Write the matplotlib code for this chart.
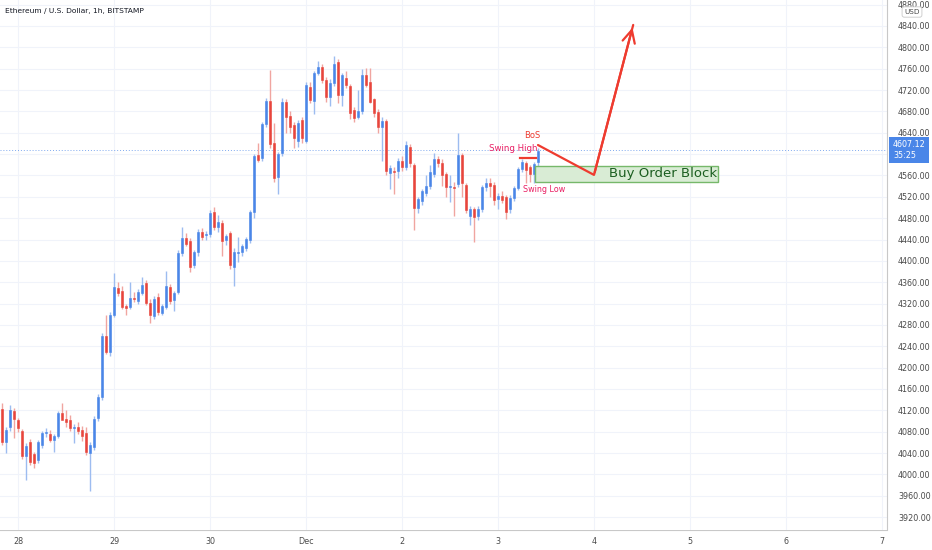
import numpy as np
import matplotlib
matplotlib.use("Agg")
import matplotlib.pyplot as plt
from matplotlib.patches import Rectangle

# ETH/USD 1h candles, first candle at 20:00 on Nov 27 (hour -4 from Nov 28 00:00)
opens = [4122, 4061, 4089, 4119, 4102, 4081, 4034, 4061, 4038, 4027, 4055, 4077, 4076, 4064, 4072,
         4115, 4104, 4102, 4087, 4089, 4083, 4078, 4040, 4051, 4106, 4145, 4259, 4229, 4299, 4349,
         4344, 4315, 4314, 4331, 4325, 4340, 4359, 4321, 4297, 4332, 4302, 4314, 4351, 4327, 4342,
         4415, 4443, 4437, 4392, 4416, 4454, 4448, 4450, 4492, 4463, 4471, 4439, 4452, 4388, 4415,
         4417, 4424, 4439, 4492, 4598, 4593, 4656, 4700, 4621, 4557, 4602, 4698, 4672, 4654, 4625,
         4664, 4624, 4726, 4700, 4752, 4763, 4739, 4707, 4733, 4773, 4711, 4743, 4728, 4683, 4670,
         4681, 4748, 4735, 4703, 4679, 4651, 4662, 4564, 4568, 4568, 4587, 4576, 4613, 4579, 4499,
         4512, 4527, 4540, 4563, 4591, 4583, 4563, 4538, 4539, 4544, 4598, 4542, 4484, 4497, 4484,
         4497, 4538, 4546, 4542, 4516, 4521, 4520, 4497, 4518, 4537, 4572, 4583, 4575, 4563, 4585]
highs = [4134, 4088, 4130, 4124, 4106, 4085, 4058, 4066, 4042, 4064, 4082, 4086, 4084, 4076, 4119,
         4134, 4120, 4112, 4094, 4098, 4090, 4088, 4060, 4110, 4150, 4265, 4298, 4305, 4377, 4360,
         4352, 4320, 4360, 4342, 4348, 4370, 4364, 4328, 4334, 4340, 4320, 4381, 4356, 4344, 4420,
         4464, 4452, 4442, 4420, 4460, 4462, 4456, 4495, 4500, 4485, 4476, 4450, 4456, 4425, 4445,
         4432, 4445, 4496, 4600, 4620, 4660, 4706, 4758, 4658, 4604, 4706, 4703, 4680, 4660, 4664,
         4670, 4735, 4735, 4756, 4774, 4768, 4744, 4740, 4784, 4778, 4752, 4756, 4732, 4688, 4720,
         4760, 4762, 4762, 4706, 4684, 4670, 4666, 4580, 4575, 4592, 4596, 4625, 4618, 4584, 4520,
         4535, 4560, 4580, 4603, 4596, 4590, 4567, 4560, 4548, 4640, 4602, 4546, 4502, 4500, 4502,
         4542, 4556, 4556, 4548, 4528, 4530, 4524, 4524, 4540, 4576, 4590, 4588, 4580, 4586, 4612]
lows = [4055, 4040, 4082, 4068, 4080, 4028, 3989, 4018, 4012, 4022, 4050, 4070, 4060, 4042, 4068,
        4108, 4088, 4082, 4058, 4075, 4062, 4036, 3968, 4046, 4100, 4140, 4225, 4222, 4294, 4335,
        4310, 4299, 4310, 4322, 4320, 4336, 4318, 4283, 4292, 4298, 4298, 4310, 4320, 4307, 4338,
        4410, 4428, 4380, 4386, 4410, 4440, 4440, 4445, 4458, 4455, 4410, 4430, 4385, 4352, 4398,
        4410, 4418, 4434, 4480, 4585, 4588, 4650, 4612, 4548, 4525, 4596, 4640, 4640, 4612, 4614,
        4620, 4620, 4696, 4676, 4748, 4734, 4698, 4690, 4728, 4696, 4690, 4724, 4665, 4660, 4665,
        4676, 4725, 4695, 4670, 4640, 4588, 4560, 4535, 4525, 4556, 4568, 4570, 4575, 4458, 4490,
        4505, 4522, 4535, 4558, 4575, 4540, 4520, 4510, 4484, 4538, 4520, 4490, 4468, 4436, 4476,
        4492, 4530, 4520, 4505, 4498, 4508, 4478, 4490, 4512, 4532, 4566, 4545, 4548, 4545, 4575]
closes = [4061, 4083, 4121, 4104, 4087, 4034, 4053, 4023, 4021, 4061, 4078, 4079, 4064, 4072, 4115,
          4102, 4098, 4087, 4088, 4081, 4072, 4042, 4055, 4104, 4145, 4259, 4229, 4299, 4351, 4340,
          4314, 4312, 4331, 4329, 4342, 4355, 4321, 4299, 4329, 4304, 4315, 4353, 4325, 4340, 4415,
          4443, 4432, 4388, 4416, 4454, 4445, 4450, 4490, 4463, 4472, 4437, 4447, 4392, 4417, 4417,
          4428, 4441, 4492, 4596, 4589, 4656, 4700, 4619, 4555, 4600, 4698, 4670, 4651, 4630, 4658,
          4630, 4729, 4701, 4752, 4763, 4739, 4707, 4733, 4769, 4711, 4748, 4730, 4677, 4668, 4681,
          4748, 4730, 4698, 4677, 4651, 4662, 4568, 4574, 4567, 4587, 4576, 4617, 4583, 4499, 4516,
          4531, 4540, 4566, 4591, 4583, 4561, 4538, 4539, 4537, 4598, 4546, 4495, 4497, 4482, 4497,
          4538, 4546, 4540, 4514, 4521, 4514, 4492, 4518, 4537, 4572, 4585, 4570, 4563, 4581, 4606]

day_labels = ["28", "29", "30", "Dec", "2", "3", "4", "5", "6", "7"]
price_ticks = list(range(3920, 4881, 40))
last_price = 4607.12
countdown = "35:25"

# drawing (hours)
swing_high_level = 4592
path_h = [130, 144, 153.8]
path_p = [4617, 4561, 4842]
block_h = (129.3, 175)
block_p = (4548, 4578)

UP = "#4a86e8"
DOWN = "#e8453c"
UP_W = "#9dbcf0"
DOWN_W = "#f0a5a0"
PINK = "#e91e63"
RED = "#ee3b2f"

hours = np.arange(len(opens)) - 4
o = np.array(opens); h = np.array(highs); l = np.array(lows); c = np.array(closes)
up = c >= o

fig = plt.figure(figsize=(9.32, 5.5), dpi=100)
ax = fig.add_axes([0, 20 / 550, 887 / 932, 530 / 550])
ax.set_xlim(-4.5, 217.25)
ax.set_ylim(3895.8, 4888.7)

# grid
for p in price_ticks:
    ax.axhline(p, color="#f0f3fa", lw=0.8, zorder=0)
for d in range(len(day_labels)):
    ax.axvline(d * 24, color="#f0f3fa", lw=0.8, zorder=0)

ax.vlines(hours[up], l[up], h[up], color=UP_W, lw=1, zorder=2)
ax.vlines(hours[~up], l[~up], h[~up], color=DOWN_W, lw=1, zorder=2)
body = np.maximum(np.abs(c - o), 1.5)
ax.bar(hours[up], body[up], bottom=np.minimum(o, c)[up], width=0.72, color=UP,
       edgecolor=UP, lw=0.4, zorder=3)
ax.bar(hours[~up], body[~up], bottom=np.minimum(o, c)[~up], width=0.72, color=DOWN,
       edgecolor=DOWN, lw=0.4, zorder=3)

# last price line
ax.axhline(last_price, color="#4a86e8", lw=0.7, ls=(0, (1, 2)), alpha=0.7, zorder=1)

# order block
ax.add_patch(Rectangle((block_h[0], block_p[0]), block_h[1] - block_h[0], block_p[1] - block_p[0],
                       facecolor="#d9ecd5", edgecolor="#76b86a", lw=1, zorder=4))
ax.text(161.3, sum(block_p) / 2, "Buy Order Block", fontsize=9.5,
        color="#1b5e20", ha="center", va="center", zorder=5)

# swing high line and labels
ax.plot([125.5, 129.5], [swing_high_level, swing_high_level], color=RED, lw=1.6, zorder=5)
ax.text(128.5, 4635, "BoS", color=RED, fontsize=6, ha="center", va="center", zorder=5)
ax.text(129.8, 4610, "Swing High", color=PINK, fontsize=6.2, ha="right", va="center", zorder=5)
ax.text(126.2, 4533, "Swing Low", color=PINK, fontsize=5.8, ha="left", va="center", zorder=5)

# projected path
ax.plot(path_h, path_p, color=RED, lw=1.6, zorder=5, solid_capstyle="round")
ax.annotate("", xy=(path_h[-1], path_p[-1]), xytext=(path_h[-2], path_p[-2]),
            arrowprops=dict(arrowstyle="->,head_length=0.9,head_width=0.45", color=RED, lw=1.6),
            zorder=5)

# axes styling
for s in ["top", "left", "bottom"]:
    ax.spines[s].set_visible(False)
ax.spines["right"].set_color("#c8c8c8")
ax.spines["right"].set_linewidth(0.8)
ax.yaxis.tick_right()
ax.set_yticks(price_ticks)
# the 4600 label sits under the live price tag, as on the chart
ax.set_yticklabels(["" if p == 4600 else f"{p:.2f}" for p in price_ticks], fontsize=5.8, color="#4a4a4a")
ax.tick_params(axis="y", length=0, pad=8)
ax.set_xticks([])

bax = fig.add_axes([0, 0, 887 / 932, 20 / 550])
bax.set_xlim(ax.get_xlim())
bax.set_ylim(0, 1)
bax.axis("off")
bax.axhline(1, color="#c8c8c8", lw=0.8)
for d, lab in enumerate(day_labels):
    bax.text(d * 24, 0.45, lab, fontsize=5.8, color="#4a4a4a", ha="center", va="center")

# price label on axis
fig.text(893 / 932, 1 - 150 / 550, f"{last_price:.2f}\n{countdown}", fontsize=5.8, color="white",
         ha="left", va="center", linespacing=1.15,
         bbox=dict(boxstyle="square,pad=0.45", facecolor="#4a86e8", edgecolor="none"))
fig.text(912 / 932, 1 - 12 / 550, "USD", fontsize=5.2, color="#4a4a4a", ha="center", va="center",
         bbox=dict(boxstyle="round,pad=0.3", facecolor="white", edgecolor="#c8c8c8", lw=0.6))

fig.text(5 / 932, 1 - 11 / 550, "Ethereum / U.S. Dollar, 1h, BITSTAMP", fontsize=5.4, color="#131722",
         ha="left", va="center")

fig.savefig("out.png", dpi=100)
